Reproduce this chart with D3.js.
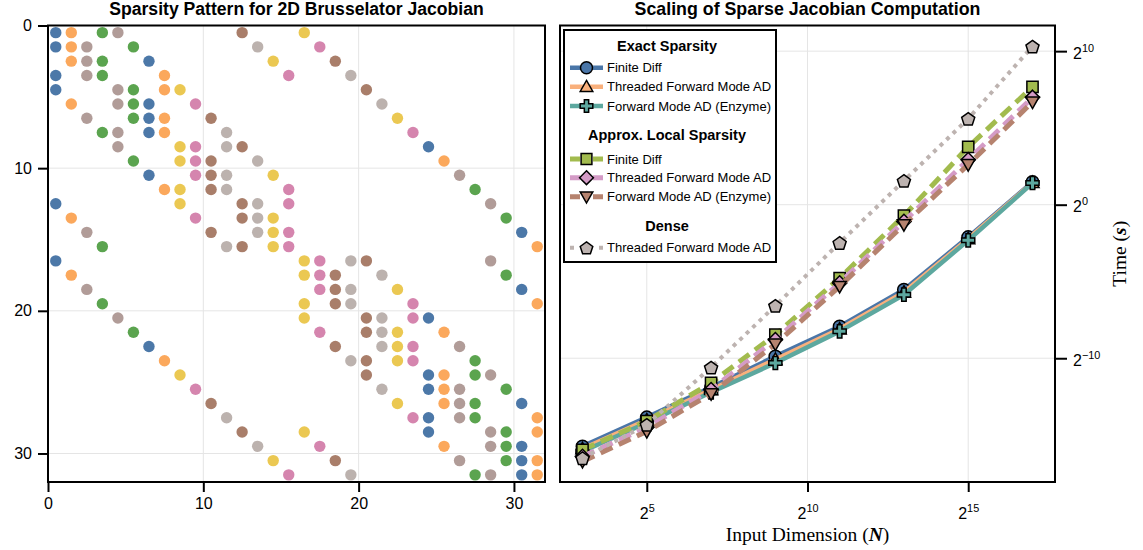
<!DOCTYPE html>
<html>
<head>
<meta charset="utf-8">
<script src="https://cdn.jsdelivr.net/npm/d3@7"></script>
<style>
  body { margin: 0; background: #fff; }
  svg { display: block; }
</style>
</head>
<body>
<svg id="chart" width="1143" height="550"></svg>
<script>
// ---------- Jacobian sparsity of the 2D Brusselator (4x4 periodic grid, u: 0-15, v: 16-31) ----------
const nStates = 32;
// non-zero column indices of every row
const rowCols = [
  [0, 1, 3, 4, 12, 16], [0, 1, 2, 5, 13, 17], [1, 2, 3, 6, 14, 18], [0, 2, 3, 7, 15, 19],
  [0, 4, 5, 7, 8, 20], [1, 4, 5, 6, 9, 21], [2, 5, 6, 7, 10, 22], [3, 4, 6, 7, 11, 23],
  [4, 8, 9, 11, 12, 24], [5, 8, 9, 10, 13, 25], [6, 9, 10, 11, 14, 26], [7, 8, 10, 11, 15, 27],
  [0, 8, 12, 13, 15, 28], [1, 9, 12, 13, 14, 29], [2, 10, 13, 14, 15, 30], [3, 11, 12, 14, 15, 31],
  [0, 16, 17, 19, 20, 28], [1, 16, 17, 18, 21, 29], [2, 17, 18, 19, 22, 30], [3, 16, 18, 19, 23, 31],
  [4, 16, 20, 21, 23, 24], [5, 17, 20, 21, 22, 25], [6, 18, 21, 22, 23, 26], [7, 19, 20, 22, 23, 27],
  [8, 20, 24, 25, 27, 28], [9, 21, 24, 25, 26, 29], [10, 22, 25, 26, 27, 30], [11, 23, 24, 26, 27, 31],
  [12, 16, 24, 28, 29, 31], [13, 17, 25, 28, 29, 30], [14, 18, 26, 29, 30, 31], [15, 19, 27, 28, 30, 31]
];
// colour group of each column (matrix colouring)
const columnColorGroup = [
  0, 1, 2, 3, 2, 3, 0, 1, 6, 7, 4, 5, 4, 5, 6, 7,
  6, 7, 4, 5, 4, 5, 6, 7, 0, 1, 2, 3, 2, 3, 0, 1
];
const spyTicks = [0, 10, 20, 30];

// ---------- Timing of sparse Jacobian computation ----------
const log2InputDim = [3, 5, 7, 9, 11, 13, 15, 17];
// run times as log2(seconds)
const exactFiniteDiff      = [-15.74, -13.85, -11.90, -9.88, -7.93, -5.54, -2.11, 1.48];
const exactThreadedFwd     = [-15.90, -14.02, -12.05, -10.08, -8.10, -5.70, -2.22, 1.44];
const exactEnzymeFwd       = [-16.07, -14.20, -12.22, -10.31, -8.25, -5.86, -2.32, 1.41];
const approxFiniteDiff     = [-15.96, -14.10, -11.60, -8.47, -4.78, -0.72, 3.76, 7.67];
const approxThreadedFwd    = [-16.40, -14.50, -12.05, -8.79, -5.10, -1.09, 2.93, 6.99];
const approxEnzymeFwd      = [-16.72, -14.77, -12.31, -9.08, -5.32, -1.30, 2.61, 6.69];
const denseThreadedFwd     = [-16.50, -14.33, -10.60, -6.58, -2.48, 1.56, 5.60, 10.31];
const xTickExp = [5, 10, 15];
const yTickExp = [-10, 0, 10];

const groupTitles = ["Exact Sparsity", "Approx. Local Sparsity", "Dense"];
const seriesLabels = [
  "Finite Diff", "Threaded Forward Mode AD", "Forward Mode AD (Enzyme)",
  "Finite Diff", "Threaded Forward Mode AD", "Forward Mode AD (Enzyme)",
  "Threaded Forward Mode AD"
];

// ---------- styles ----------
const dotPalette = ["#4C78A8", "#FBA85C", "#B19C98", "#5BA44F", "#A97E6A", "#BCB2AE", "#EBC852", "#D585AE"];
const seriesStyles = [
  { values: exactFiniteDiff,   color: "#4A76A8", marker: "circle",    dash: null,   width: 4.5, group: 0 },
  { values: exactThreadedFwd,  color: "#F9B07C", marker: "utriangle", dash: null,   width: 4.5, group: 0 },
  { values: exactEnzymeFwd,    color: "#5DA89F", marker: "cross",     dash: null,   width: 4.5, group: 0 },
  { values: approxFiniteDiff,  color: "#A2BB4E", marker: "square",    dash: "13,7", width: 5,   group: 1 },
  { values: approxThreadedFwd, color: "#D49BC6", marker: "diamond",   dash: "13,7", width: 5,   group: 1 },
  { values: approxEnzymeFwd,   color: "#B6836F", marker: "dtriangle", dash: "13,7", width: 5,   group: 1 },
  { values: denseThreadedFwd,  color: "#BDB3B0", marker: "pentagon",  dash: "4,5",  width: 4,   group: 2 }
];

const sansFont = "'Liberation Sans', Arial, Helvetica, sans-serif";
const serifFont = "'Liberation Serif', 'DejaVu Serif', serif";

const svg = d3.select("#chart");

function supLabel(sel, base, exp, size) {
  sel.text(null);
  sel.append("tspan").text(base);
  sel.append("tspan").attr("dy", -size * 0.45).attr("font-size", size * 0.68).text(exp);
}

// =================== left panel: sparsity pattern ===================
const L = { x0: 48, x1: 545, y0: 25.5, y1: 482 };
const xSpy = d3.scaleLinear().domain([0, nStates]).range([L.x0, L.x1]);
const ySpy = d3.scaleLinear().domain([0, nStates]).range([L.y0, L.y1]);

const left = svg.append("g");
// grid
left.append("g").selectAll("line.gx").data(spyTicks.filter(t => t > 0)).join("line")
  .attr("x1", d => xSpy(d)).attr("x2", d => xSpy(d)).attr("y1", L.y0).attr("y2", L.y1)
  .attr("stroke", "#e5e5e5").attr("stroke-width", 1);
left.append("g").selectAll("line.gy").data(spyTicks.filter(t => t > 0)).join("line")
  .attr("y1", d => ySpy(d)).attr("y2", d => ySpy(d)).attr("x1", L.x0).attr("x2", L.x1)
  .attr("stroke", "#e5e5e5").attr("stroke-width", 1);

const nonzeros = [];
rowCols.forEach((cols, r) => cols.forEach(c => nonzeros.push({ r, c })));
left.append("g").selectAll("circle").data(nonzeros).join("circle")
  .attr("cx", d => xSpy(d.c + 0.5)).attr("cy", d => ySpy(d.r + 0.5)).attr("r", 5.7)
  .attr("fill", d => dotPalette[columnColorGroup[d.c]]);

left.append("rect").attr("x", L.x0).attr("y", L.y0).attr("width", L.x1 - L.x0).attr("height", L.y1 - L.y0)
  .attr("fill", "none").attr("stroke", "#000").attr("stroke-width", 2);

const axSpyX = left.append("g").attr("transform", `translate(0,${L.y1})`)
  .call(d3.axisBottom(xSpy).tickValues(spyTicks).tickSize(10).tickPadding(6));
const axSpyY = left.append("g").attr("transform", `translate(${L.x0},0)`)
  .call(d3.axisLeft(ySpy).tickValues(spyTicks).tickSize(10).tickPadding(6));
[axSpyX, axSpyY].forEach(a => {
  a.select(".domain").remove();
  a.selectAll(".tick line").attr("stroke", "#000").attr("stroke-width", 2);
  a.selectAll(".tick text").attr("font-family", sansFont).attr("font-size", 16).attr("fill", "#000");
});

left.append("text").attr("x", (L.x0 + L.x1) / 2).attr("y", 15).attr("text-anchor", "middle")
  .attr("font-family", sansFont).attr("font-weight", "bold").attr("font-size", 17.6)
  .text("Sparsity Pattern for 2D Brusselator Jacobian");

// =================== right panel: scaling ===================
const R = { x0: 560, x1: 1055, y0: 25.5, y1: 482 };
const xN = d3.scaleLinear().domain([2.3, 17.7]).range([R.x0, R.x1]);
const yT = d3.scaleLinear().domain([-18.06, 11.67]).range([R.y1, R.y0]);

const right = svg.append("g");
right.append("g").selectAll("line").data(xTickExp).join("line")
  .attr("x1", d => xN(d)).attr("x2", d => xN(d)).attr("y1", R.y0).attr("y2", R.y1)
  .attr("stroke", "#e5e5e5").attr("stroke-width", 1);
right.append("g").selectAll("line").data(yTickExp).join("line")
  .attr("y1", d => yT(d)).attr("y2", d => yT(d)).attr("x1", R.x0).attr("x2", R.x1)
  .attr("stroke", "#e5e5e5").attr("stroke-width", 1);

function markerPath(type, s) {
  const h = s / 2;
  switch (type) {
    case "circle": return d3.symbol(d3.symbolCircle, Math.PI * h * h)();
    case "square": { const a = h * 0.9; return `M${-a},${-a}H${a}V${a}H${-a}Z`; }
    case "diamond": { const a = h * 1.15; return `M0,${-a}L${a},0L0,${a}L${-a},0Z`; }
    case "utriangle": return `M0,${-h * 1.05}L${h * 1.05},${h * 0.8}L${-h * 1.05},${h * 0.8}Z`;
    case "dtriangle": return `M0,${h * 1.05}L${h * 1.05},${-h * 0.8}L${-h * 1.05},${-h * 0.8}Z`;
    case "cross": {
      const a = h * 1.05, t = h * 0.36;
      return `M${-t},${-a}H${t}V${-t}H${a}V${t}H${t}V${a}H${-t}V${t}H${-a}V${-t}H${-t}Z`;
    }
    case "pentagon": {
      const pts = d3.range(5).map(i => {
        const ang = -Math.PI / 2 + i * 2 * Math.PI / 5;
        return [h * 1.1 * Math.cos(ang), h * 1.1 * Math.sin(ang) + 0.8];
      });
      return "M" + pts.map(p => p.join(",")).join("L") + "Z";
    }
  }
}

const plotArea = right.append("g");
const lineGen = d3.line().x(d => xN(d[0])).y(d => yT(d[1]));
seriesStyles.forEach(s => {
  const pts = log2InputDim.map((x, i) => [x, s.values[i]]);
  plotArea.append("path").attr("d", lineGen(pts)).attr("fill", "none")
    .attr("stroke", s.color).attr("stroke-width", s.width)
    .attr("stroke-dasharray", s.dash).attr("stroke-linejoin", "round");
  plotArea.append("g").selectAll("path").data(pts).join("path")
    .attr("transform", d => `translate(${xN(d[0])},${yT(d[1])})`)
    .attr("d", markerPath(s.marker, 12.5))
    .attr("fill", s.color).attr("stroke", "#000").attr("stroke-width", 1.5);
});

right.append("rect").attr("x", R.x0).attr("y", R.y0).attr("width", R.x1 - R.x0).attr("height", R.y1 - R.y0)
  .attr("fill", "none").attr("stroke", "#000").attr("stroke-width", 2);

const axN = right.append("g").attr("transform", `translate(0,${R.y1})`)
  .call(d3.axisBottom(xN).tickValues(xTickExp).tickSize(10).tickPadding(8));
const axT = right.append("g").attr("transform", `translate(${R.x1},0)`)
  .call(d3.axisRight(yT).tickValues(yTickExp).tickSize(12).tickPadding(6));
[axN, axT].forEach(a => {
  a.select(".domain").remove();
  a.selectAll(".tick line").attr("stroke", "#000").attr("stroke-width", 2);
  a.selectAll(".tick text").attr("font-family", sansFont).attr("font-size", 16).attr("fill", "#000")
    .each(function (d) { supLabel(d3.select(this), "2", String(d).replace("-", "\u2212"), 16); });
});
axN.selectAll(".tick text").attr("dy", "1.2em");
axT.selectAll(".tick text").attr("dy", "0.45em");

right.append("text").attr("x", (R.x0 + R.x1) / 2).attr("y", 15).attr("text-anchor", "middle")
  .attr("font-family", sansFont).attr("font-weight", "bold").attr("font-size", 17.8)
  .text("Scaling of Sparse Jacobian Computation");

const xLab = right.append("text").attr("x", (R.x0 + R.x1) / 2).attr("y", 541).attr("text-anchor", "middle")
  .attr("font-family", serifFont).attr("font-size", 19.5).attr("fill", "#000");
xLab.append("tspan").text("Input Dimension (");
xLab.append("tspan").attr("font-weight", "bold").attr("font-style", "italic").text("N");
xLab.append("tspan").text(")");

const yLab = right.append("text").attr("transform", `translate(1126,${(R.y0 + R.y1) / 2}) rotate(-90)`)
  .attr("text-anchor", "middle").attr("font-family", serifFont).attr("font-size", 19.5).attr("fill", "#000");
yLab.append("tspan").text("Time (");
yLab.append("tspan").attr("font-weight", "bold").attr("font-style", "italic").text("s");
yLab.append("tspan").text(")");

// ---------- legend ----------
const leg = right.append("g");
const LG = { x: 564, y: 30, w: 212, h: 232 };
leg.append("rect").attr("x", LG.x).attr("y", LG.y).attr("width", LG.w).attr("height", LG.h)
  .attr("fill", "#fff").attr("stroke", "#000").attr("stroke-width", 2);
const titleY = [45.7, 135, 226];
const entryY = [67.7, 86.7, 106, 159, 177.7, 196.7, 247.7];
groupTitles.forEach((t, i) => {
  leg.append("text").attr("x", LG.x + LG.w / 2 - 3).attr("y", titleY[i]).attr("dy", "0.35em")
    .attr("text-anchor", "middle").attr("font-family", sansFont).attr("font-weight", "bold")
    .attr("font-size", 14.5).text(t);
});
seriesStyles.forEach((s, i) => {
  const cy = entryY[i];
  leg.append("line").attr("x1", 570).attr("x2", 603).attr("y1", cy).attr("y2", cy)
    .attr("stroke", s.color).attr("stroke-width", s.width)
    .attr("stroke-dasharray", s.dash ? (s.group === 2 ? "4,25" : "10,13") : null);
  leg.append("path").attr("transform", `translate(586.5,${cy})`).attr("d", markerPath(s.marker, 12))
    .attr("fill", s.color).attr("stroke", "#000").attr("stroke-width", 1.5);
  leg.append("text").attr("x", 607).attr("y", cy).attr("dy", "0.35em")
    .attr("font-family", sansFont).attr("font-size", 13).text(seriesLabels[i]);
});
</script>
</body>
</html>
